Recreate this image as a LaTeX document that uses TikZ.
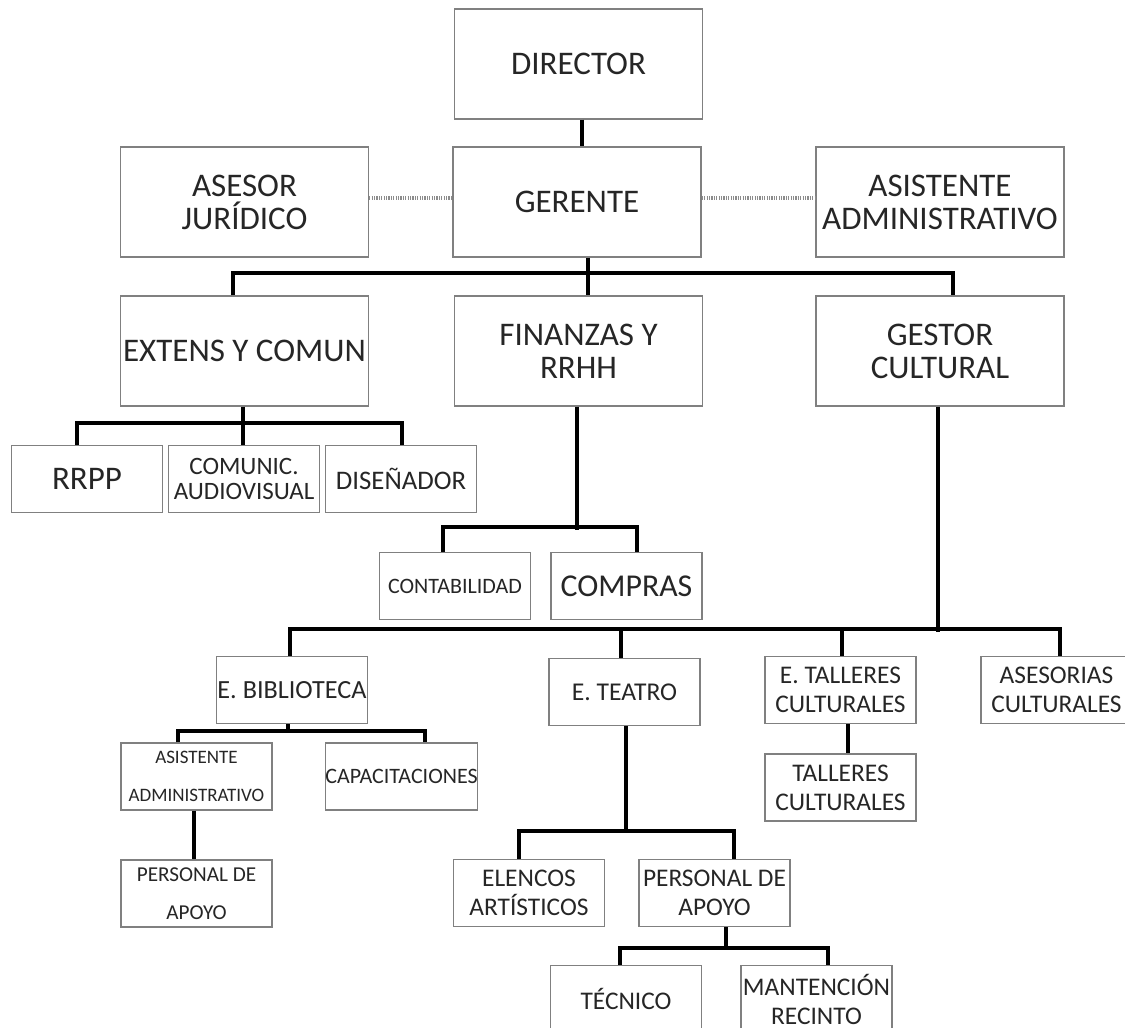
\documentclass[tikz,border=0pt]{standalone}
\usepackage{fontspec}
\setmainfont{Carlito}
\newcommand{\boxsize}[2]{\fontsize{#1}{#2}\selectfont}

\begin{document}
\begin{tikzpicture}[x=0.5pt,y=-0.5pt,
  box/.style={draw=black!50, line width=0.7pt, fill=white, align=center, inner sep=0pt, text=black!85},
  big/.style={box, minimum width=124pt, minimum height=55pt, font=\boxsize{16.5}{16.5}},
  unit/.style={box, minimum width=75.5pt, minimum height=33.5pt, font=\boxsize{12.7}{14.5}},
  link/.style={line width=2pt},
  dots/.style={draw=black!45, line width=1.6pt, dash pattern=on 0.6pt off 0.6pt}]
\useasboundingbox (0,0) rectangle (1125,1028);
\clip (0,0) rectangle (1125,1028);
% top
\node[big] (director) at (578.5,64) {DIRECTOR};
\node[big] (asesor) at (244.5,202) {ASESOR\\JURÍDICO};
\node[big] (gerente) at (577,202) {GERENTE};
\node[big] (asistente) at (940,202) {ASISTENTE\\ADMINISTRATIVO};
\node[big] (extens) at (244.5,351) {EXTENS Y COMUN};
\node[big] (finanzas) at (578.5,351) {FINANZAS Y\\RRHH};
\node[big] (gestor) at (940,351) {GESTOR\\CULTURAL};
% extension
\node[unit, font=\boxsize{16.5}{14.5}] (rrpp) at (87,479) {RRPP};
\node[unit, font=\boxsize{12.5}{12.5}] (comunic) at (244,479) {COMUNIC.\\AUDIOVISUAL};
\node[unit, font=\boxsize{13.4}{14}] (disenador) at (401,479) {DISEÑADOR};
% finanzas
\node[unit, font=\boxsize{11}{12}] (contab) at (455,586) {CONTABILIDAD};
\node[unit, font=\boxsize{15.9}{14}] (compras) at (626.5,586) {COMPRAS};
% gestor
\node[unit, font=\boxsize{13.1}{14}] (bibl) at (292,690) {E. BIBLIOTECA};
\node[unit, font=\boxsize{12.8}{14}] (teatro) at (624.5,692) {E. TEATRO};
\node[unit] (talleres) at (840.5,690) {E. TALLERES\\CULTURALES};
\node[unit] (asesorias) at (1056.5,690) {ASESORIAS\\CULTURALES};
\node[unit] (talleres2) at (840.5,787.5) {TALLERES\\CULTURALES};
% biblioteca
\node[unit, font=\boxsize{9.5}{19}] (asist2) at (196.5,776.5) {ASISTENTE\\ADMINISTRATIVO};
\node[unit, font=\boxsize{11}{12}] (capac) at (401.5,776.5) {CAPACITACIONES};
\node[unit, font=\boxsize{10.6}{19}] (personal1) at (196.5,893.5) {PERSONAL DE\\APOYO};
% teatro
\node[unit] (elencos) at (529,893) {ELENCOS\\ARTÍSTICOS};
\node[unit] (personal2) at (714.5,893) {PERSONAL DE\\APOYO};
\node[unit] (tecnico) at (626,999) {TÉCNICO};
\node[unit] (mantencion) at (816.5,999) {MANTENCIÓN\\RECINTO};

\draw[link] (director.south -| 582,0) -- (gerente.north -| 582,0);
\draw[dots] (asesor.east |- 0,198) -- (gerente.west |- 0,198);
\draw[dots] (gerente.east |- 0,198) -- (asistente.west |- 0,198);
\draw[link] (gerente.south -| 588,0) -- (finanzas.north -| 588,0);
\draw[link] (extens.north -| 233,0) -- ++(0,-22) -| (gestor.north -| 953,0);

\draw[link] (extens.south -| 243,0) -- (comunic.north -| 243,0);
\draw[link] (rrpp.north -| 77,0) -- ++(0,-22) -| (disenador.north -| 402,0);

\draw[link] (finanzas.south -| 577,0) -- ++(0,123);
\draw[link] (contab.north -| 443,0) -- ++(0,-25) -| (compras.north -| 637,0);

\draw[link] (gestor.south -| 938,0) -- ++(0,225);
\draw[link] (bibl.north -| 290,0) -- ++(0,-27) -| (asesorias.north -| 1060,0);
\draw[link] (teatro.north -| 621,0) -- ++(0,-29);
\draw[link] (talleres.north -| 842,0) -- ++(0,-27);
\draw[link] (talleres.south -| 848,0) -- (talleres2.north -| 848,0);

\draw[link] (bibl.south -| 288,0) -- ++(0,9);
\draw[link] (asist2.north -| 178,0) -- ++(0,-11) -| (capac.north -| 425,0);
\draw[link] (asist2.south -| 194,0) -- (personal1.north -| 194,0);

\draw[link] (teatro.south -| 626,0) -- ++(0,106);
\draw[link] (elencos.north -| 519,0) -- ++(0,-28) -| (personal2.north -| 734,0);
\draw[link] (personal2.south -| 726,0) -- ++(0,22);
\draw[link] (tecnico.north -| 620,0) -- ++(0,-17) -| (mantencion.north -| 828,0);
\end{tikzpicture}
\end{document}
